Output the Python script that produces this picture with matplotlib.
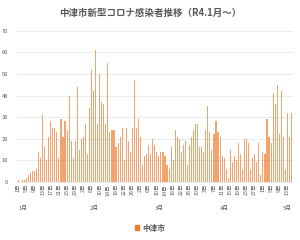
import numpy as np
import pandas as pd
from matplotlib import pyplot as plt

plt.rcParams['font.family'] = ['Noto Sans CJK JP', 'DejaVu Sans']

# 中津市 日別新規感染者数（R4.1.1～）
casos = [
    1, 0, 1, 1, 2, 3, 4, 5, 5, 6,
    14, 11, 31, 16, 10, 21, 28, 25, 25, 23,
    11, 29, 21, 28, 24, 40, 19, 11, 19, 44,
    15, 20, 21, 27, 13, 34, 52, 42, 61, 27,
    50, 37, 36, 27, 55, 23, 24, 24, 16, 18,
    21, 25, 10, 25, 19, 14, 25, 47, 25, 29,
    21, 8, 12, 13, 17, 13, 20, 17, 14, 12,
    14, 14, 12, 8, 6, 16, 10, 24, 21, 20,
    14, 17, 19, 8, 17, 21, 24, 27, 27, 16,
    16, 14, 24, 35, 23, 15, 22, 28, 23, 21,
    12, 11, 6, 2, 15, 9, 12, 10, 18, 13,
    6, 20, 20, 18, 6, 11, 13, 9, 18, 3,
    14, 13, 29, 21, 18, 41, 36, 45, 22, 42,
    21, 6, 32, 21, 32,
]
datas = pd.date_range("2022-01-01", periods=len(casos), freq="D")
rotulos_dia = [f"{d.day}日" for d in datas]
meses = ["1月", "2月", "3月", "4月", "5月"]
pos_meses = [0, 35, 67, 99, 130]   # onde o rótulo do mês aparece no eixo

cor = '#ED7D31'
cinza = '#595959'

fig = plt.figure(figsize=(3, 2.4), dpi=100)
ax = fig.add_axes([0.055, 0.242, 0.922, 0.63])

idx = np.arange(len(casos))
ax.bar(idx, casos, width=0.55, color=cor, alpha=0.7, linewidth=0, zorder=2)

ax.set_ylim(0, 70)
ax.set_yticks(range(0, 71, 10))
ax.set_xlim(-0.8, len(casos) - 0.2)
ax.grid(axis='y', color='#E3E3E3', linewidth=0.5, zorder=0)
for lado in ['top', 'right', 'left']:
    ax.spines[lado].set_visible(False)
ax.spines['bottom'].set_color('#D9D9D9')
ax.spines['bottom'].set_linewidth(0.5)

ax.set_xticks(idx[::4])
ax.set_xticklabels(rotulos_dia[::4], rotation=90, fontsize=3.9, color=cinza)
ax.tick_params(axis='x', length=0, pad=1.5)
ax.tick_params(axis='y', length=0, labelsize=4.2, labelcolor=cinza, pad=6)

# rótulos dos meses
for p, m in zip(pos_meses, meses):
    ax.text(p, -0.175, m, transform=ax.get_xaxis_transform(), ha='left', va='center',
            fontsize=4.2, color=cinza)

fig.suptitle("中津市新型コロナ感染者推移（R4.1月～）", x=0.5, y=0.965, fontsize=6.8,
             color=cinza, fontweight='bold')

fig.legend(handles=[plt.Rectangle((0, 0), 1, 1, color=cor)], labels=["中津市"],
           loc='center', bbox_to_anchor=(0.5, 0.05), frameon=False,
           handlelength=0.6, handleheight=0.6, handletextpad=0.4,
           labelcolor=cinza, prop={'weight': 'bold', 'size': 5.5})

plt.savefig("out.png", dpi=100)
